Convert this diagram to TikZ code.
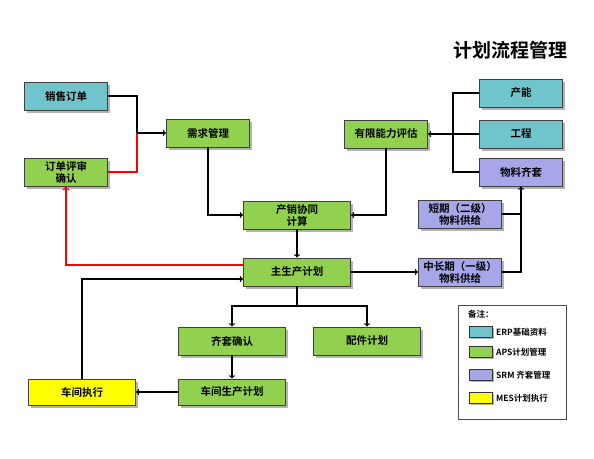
\documentclass[tikz,border=0pt]{standalone}
\usepackage{fontspec}
\newfontfamily\cjk{Noto Sans CJK SC}[BoldFont={Noto Sans CJK SC Bold}]
\usetikzlibrary{arrows,positioning,shadows}
\definecolor{erpcyan}{HTML}{70C4CC}
\definecolor{apsgreen}{HTML}{92D050}
\definecolor{srmpurple}{HTML}{A6A6E8}
\definecolor{mesyellow}{HTML}{FFFF00}
\begin{document}
\begin{tikzpicture}[x=1pt,y=-1pt,
  box/.style={rectangle, draw=black!75, line width=0.9pt, minimum width=83pt, minimum height=28pt,
    align=center, inner sep=1pt, font=\cjk\bfseries\fontsize{10.5}{12}\selectfont,
    drop shadow={shadow xshift=2.5pt, shadow yshift=-2.5pt, fill=black!50, opacity=0.6}},
  wide/.style={box, minimum width=107pt},
  swatch/.style={rectangle, draw=black!80, line width=0.9pt, minimum width=23pt, minimum height=11pt,
    inner sep=0pt, drop shadow={shadow xshift=1.5pt, shadow yshift=-1.5pt, fill=black!50, opacity=0.6}},
  keytext/.style={anchor=west, inner sep=1pt, font=\cjk\bfseries\fontsize{8.5}{10}\selectfont},
  line/.style={line width=1.2pt},
  link/.style={->, line width=1.2pt},
  redlink/.style={->, line width=1.5pt, red}]
\useasboundingbox (0,0) rectangle (594,458);

% title
\node (title) [font=\cjk\bfseries\fontsize{19}{22}\selectfont] at (510,50) {计划流程管理};

% boxes
\node (sales) [box, fill=erpcyan] at (66,96) {销售订单};
\node (review) [box, fill=apsgreen] at (66,172) {订单评审\\确认};
\node (demand) [box, fill=apsgreen] at (208,133) {需求管理};
\node (capeval) [box, fill=apsgreen] at (386,134) {有限能力评估};
\node (capacity) [box, fill=erpcyan] at (521,93) {产能};
\node (engineer) [box, fill=erpcyan] at (521,134) {工程};
\node (kitting) [box, fill=srmpurple] at (521,172) {物料齐套};
\node (sop) [wide, fill=apsgreen] at (297,215) {产销协同\\计算};
\node (shortsup) [box, fill=srmpurple] at (460,214) {短期（二级）\\物料供给};
\node (mps) [wide, fill=apsgreen] at (297,272) {主生产计划};
\node (longsup) [box, fill=srmpurple] at (460,272) {中长期（一级）\\物料供给};
\node (kitcheck) [wide, fill=apsgreen] at (232,341) {齐套确认};
\node (parts) [wide, fill=apsgreen] at (367,341) {配件计划};
\node (shopplan) [wide, fill=apsgreen, minimum height=26pt] at (232,392) {车间生产计划};
\node (shopexec) [wide, fill=mesyellow, minimum height=26pt] at (82,392) {车间执行};

% junctions
\coordinate (salesjoin) at (137,133);
\coordinate (resjoin) at (453,134);
\coordinate (mpsjoin) at (297,306);

% connectors
\draw [line] (sales.east) -| (salesjoin);
\draw [line, red, line width=1.5pt] (review.east) -| (salesjoin);
\draw [link] (salesjoin) -- (demand.west);
\draw [link] (demand.south) |- (sop.west);
\draw [line] (capacity.west) -| (resjoin);
\draw [line] (kitting.west) -| (resjoin);
\draw [link] (engineer.west) -- (capeval.east);
\draw [link] (capeval.south) |- (sop.east);
\draw [link] (sop) -- (mps);
\draw [redlink] ([yshift=7pt]mps.west) -| (review.south);
\draw [link] (shopexec.north) |- ([yshift=-7pt]mps.west);
\draw [link] (mps) -- (longsup);
\draw [link] (longsup.east) -| (kitting.south);
\draw [line] (shortsup.east) -- (shortsup.east -| kitting.south);
\draw [line] (mps.south) -- (mpsjoin);
\draw [link] (mpsjoin) -| (kitcheck.north);
\draw [link] (mpsjoin) -| (parts.north);
\draw [link] (kitcheck) -- (shopplan);
\draw [link] (shopplan) -- (shopexec);

% legend
\node (legend) [draw=black!70, line width=0.9pt, minimum width=108pt, minimum height=114pt] at (512,362) {};
\node (notelabel) [keytext] at (467,314) {备注：};
\node (keyerp) [swatch, fill=erpcyan] at (481,332) {};
\node (keyaps) [swatch, fill=apsgreen] at (481,352) {};
\node (keysrm) [swatch, fill=srmpurple] at (481,375) {};
\node (keymes) [swatch, fill=mesyellow] at (481,398) {};
\node (texterp) [keytext, right=2pt of keyerp] {ERP基础资料};
\node (textaps) [keytext, right=2pt of keyaps] {APS计划管理};
\node (textsrm) [keytext, right=2pt of keysrm] {SRM 齐套管理};
\node (textmes) [keytext, right=2pt of keymes] {MES计划执行};
\end{tikzpicture}
\end{document}
